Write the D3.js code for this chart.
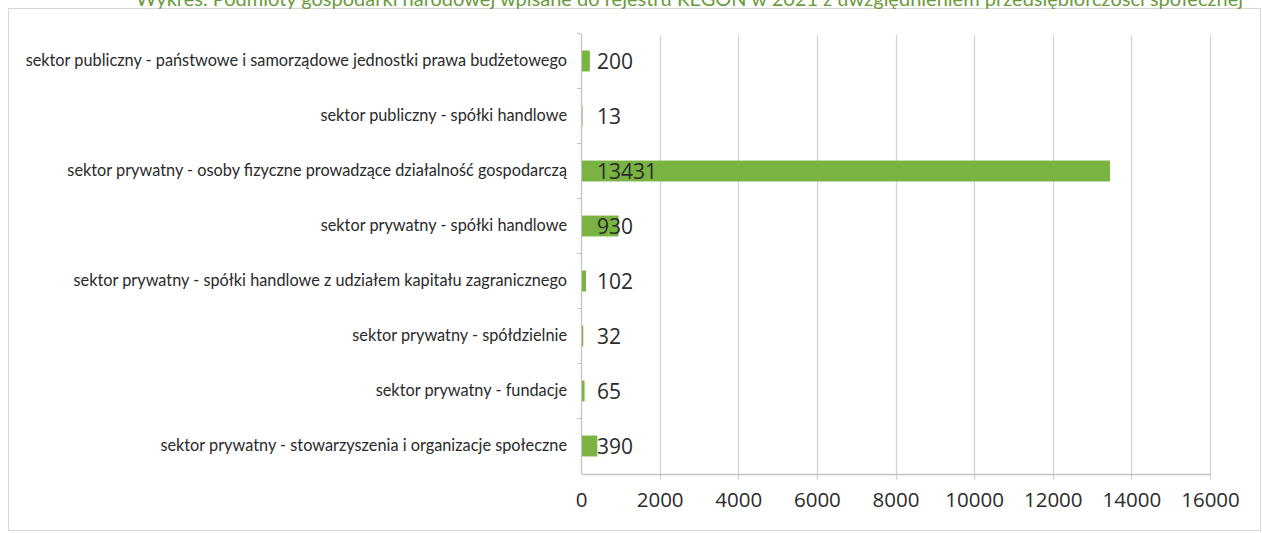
<!DOCTYPE html>
<html><head><meta charset="utf-8">
<script src="https://cdn.jsdelivr.net/npm/d3@7"></script>
<style>body{margin:0;background:#fff;} svg{display:block;}</style>
</head><body>
<svg id="c" width="1262" height="533"></svg>
<script>
const categories = [
  "sektor publiczny - państwowe i samorządowe jednostki prawa budżetowego",
  "sektor publiczny - spółki handlowe",
  "sektor prywatny - osoby fizyczne prowadzące działalność gospodarczą",
  "sektor prywatny - spółki handlowe",
  "sektor prywatny - spółki handlowe z udziałem kapitału zagranicznego",
  "sektor prywatny - spółdzielnie",
  "sektor prywatny - fundacje",
  "sektor prywatny - stowarzyszenia i organizacje społeczne"
];
const values = [200, 13, 13431, 930, 102, 32, 65, 390];
const xTicks = [0, 2000, 4000, 6000, 8000, 10000, 12000, 14000, 16000];
const titleText = "Wykres. Podmioty gospodarki narodowej wpisane do rejestru REGON w 2021 z uwzględnieniem przedsiębiorczości społecznej";

const svg = d3.select("#c");
const x = d3.scaleLinear().domain([0, 16000]).range([581, 1210]);
const y = d3.scaleBand().domain(categories).range([33.5, 473.5]).paddingInner(0.62).paddingOuter(0.31);

// frame
svg.append("rect").attr("x", 8.5).attr("y", 8.5).attr("width", 1252).attr("height", 522)
  .attr("fill", "none").attr("stroke", "#d6d6d6").attr("stroke-width", 1);

// title (cut at the top edge, as in the reference)
svg.append("text").attr("x", 1243).attr("y", 6).attr("text-anchor", "end")
  .attr("font-family", "Lato, 'Open Sans', sans-serif").attr("font-size", 20)
  .attr("fill", "#6a9b3a").text(titleText);

// gridlines
svg.append("g").selectAll("line").data(xTicks.slice(1)).join("line")
  .attr("x1", d => Math.round(x(d)) + 0.5).attr("x2", d => Math.round(x(d)) + 0.5)
  .attr("y1", 35).attr("y2", 480)
  .attr("stroke", "#d4d4d4").attr("stroke-width", 1.3);

// x axis
const xAxis = d3.axisBottom(x).tickValues(xTicks).tickSize(0).tickPadding(27).tickFormat(d3.format("d"));
const gx = svg.append("g").attr("transform", "translate(0,474)").call(xAxis);
gx.select(".domain").attr("stroke", "#c4c4c4").attr("stroke-width", 1.3);
gx.selectAll("text").attr("font-family", "'Open Sans', sans-serif").attr("font-size", 20.5)
  .attr("fill", "#2b2b2b").attr("dy", "0.3em");

// y axis
const yAxis = d3.axisLeft(y).tickSize(0).tickPadding(14);
const gy = svg.append("g").attr("transform", "translate(581,0)").call(yAxis);
gy.select(".domain").attr("stroke", "#c4c4c4").attr("stroke-width", 1.3);
gy.selectAll("text").attr("font-family", "Lato, 'Open Sans', sans-serif").attr("font-size", 16.3)
  .attr("fill", "#2a2a2a");
// tick marks at band boundaries
const bounds = d3.range(categories.length).map(i => y.range()[0] + i * y.step());
svg.append("g").selectAll("line").data(bounds).join("line")
  .attr("x1", 577).attr("x2", 581).attr("y1", d => d).attr("y2", d => d)
  .attr("stroke", "#c4c4c4");

// bars
svg.append("g").selectAll("rect").data(values).join("rect")
  .attr("x", x(0) + 1).attr("y", (d, i) => y(categories[i]))
  .attr("width", d => x(d) - x(0)).attr("height", y.bandwidth())
  .attr("fill", "#79b342");

// value labels
svg.append("g").selectAll("text").data(values).join("text")
  .attr("x", x(0) + 16).attr("y", (d, i) => y(categories[i]) + y.bandwidth() / 2)
  .attr("dy", "0.36em")
  .attr("font-family", "'Open Sans', sans-serif").attr("font-size", 21)
  .attr("fill", "#2b2b2b").text(d => d);
</script>
</body></html>
